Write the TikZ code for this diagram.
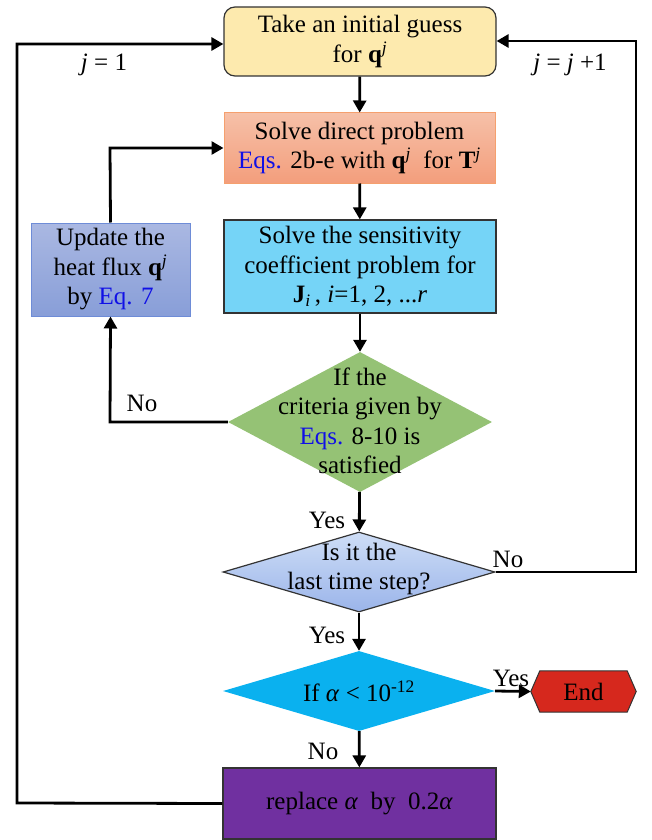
\documentclass[tikz,border=0pt]{standalone}
\usepackage{fontspec}
\setmainfont{Liberation Serif}
\usetikzlibrary{arrows.meta,shapes.geometric,backgrounds}
\definecolor{eqblue}{HTML}{1010E6}
\newcommand{\eqs}[1]{\textcolor{eqblue}{#1}}
\newcommand{\bq}{\textbf{q}\textsuperscript{\textit{j}}}
\begin{document}
\begin{tikzpicture}[x=1pt,y=-1pt,
  every node/.style={font=\fontsize{25}{29.5}\selectfont, align=center, inner sep=0pt},
  conn/.style={line width=2.8pt, -{Triangle[length=12pt,width=13pt]}},
  lbl/.style={font=\fontsize{25}{29}\selectfont}
]
\useasboundingbox (0,0) rectangle (652,840);

% boxes
\node (b1) at (360,41.5) [draw=black!80, line width=1.2pt, rounded corners=11pt, fill={rgb,255:red,253;green,234;blue,174},
  minimum width=272pt, minimum height=69pt] {Take an initial guess\\for \bq};
\node (b2) at (359.5,148) [draw={rgb,255:red,245;green,160;blue,110}, line width=1pt,
  top color={rgb,255:red,246;green,192;blue,168}, bottom color={rgb,255:red,243;green,158;blue,124},
  minimum width=271pt, minimum height=70pt] {Solve direct problem\\\eqs{Eqs.} 2b-e with \bq{}\ \ for \textbf{T}\textsuperscript{\textit{j}}};
\node (b3) at (360,266.5) [draw=black!80, line width=1.2pt, fill={rgb,255:red,117;green,212;blue,247},
  minimum width=272pt, minimum height=93pt] {Solve the sensitivity\\coefficient problem for\\\textbf{J}\textsubscript{\textit{i}}\,, \textit{i}=1, 2, ...\textit{r}};
\node (b4) at (110.5,269.5) [draw={rgb,255:red,110;green,140;blue,215}, line width=1pt,
  top color={rgb,255:red,170;green,184;blue,226}, bottom color={rgb,255:red,136;green,158;blue,216},
  minimum width=159pt, minimum height=93pt] {Update the\\heat flux \bq\\by \eqs{Eq. 7}};

% diamonds
\node (d1) at (360,422) [diamond, fill={rgb,255:red,149;green,194;blue,117}, minimum width=264pt, minimum height=140pt] {};
\node (t1) at (360,421) {If the\\criteria given by\\\eqs{Eqs.} 8-10 is\\satisfied};
\node (d2) at (359,572) [diamond, draw=black!80, line width=1.2pt,
  top color={rgb,255:red,206;green,221;blue,246}, bottom color={rgb,255:red,155;green,181;blue,234},
  minimum width=272pt, minimum height=80pt] {};
\node (t2) at (359,569) {Is it the\\last time step?};
\node (d3) at (359,691) [diamond, fill={rgb,255:red,10;green,177;blue,239}, minimum width=272pt, minimum height=80pt] {};
\node (t3) at (359,691) {If \textit{α} < 10\textsuperscript{-12}};

% end
\node (e) at (583.5,691.5) [minimum width=105pt, minimum height=41pt] {End};
\begin{scope}[on background layer]
\draw[draw=black!80, line width=1pt, fill={rgb,255:red,214;green,40;blue,29}]
  (e.west) -- ([xshift=9pt]e.north west) -- ([xshift=-9pt]e.north east) -- (e.east)
  -- ([xshift=-9pt]e.south east) -- ([xshift=9pt]e.south west) -- cycle;
\end{scope}

% purple
\node (p) at (359.5,803.5) [draw=black!80, line width=1.2pt, fill={rgb,255:red,112;green,48;blue,160},
  minimum width=273pt, minimum height=71pt] {replace \textit{α}\ \ by\ \ 0.2\textit{α}};

% connectors
\draw[conn] (b1) -- (b2);
\draw[conn] (b2) -- (b3);
\draw[conn] (b3) -- (d1);
\draw[conn] (d1) -- (d2);
\draw[conn] (d2) -- (d3);
\draw[conn] (d3) -- (p);
\draw[conn] (d3.east) -- (e.west);

\coordinate (r1) at (636,572);
\coordinate (r2) at (636,41);
\draw[conn] (d2.east) -- (r1) -- (r2) -- (b1.east |- r2);

\coordinate (l1) at (17,803);
\coordinate (l2) at (17,44);
\draw[conn] (p.west) -- (l1) -- (l2) -- (b1.west |- l2);

\coordinate (u1) at (110,422);
\draw[conn] (d1.west) -- (u1) -- (b4.south);

\coordinate (u2) at (110,148);
\draw[conn] (b4.north) -- (u2) -- (b2.west |- u2);

% labels
\node (ly1) at (327,520) [lbl] {Yes};
\node (ly2) at (327,635) [lbl] {Yes};
\node (ln3) at (323,751) [lbl] {No};
\node (ly3) at (511,678) [lbl] {Yes};
\node (ln2) at (508,559) [lbl] {No};
\node (ln1) at (142,403) [lbl] {No};
\node (lj1) at (104,65) [lbl] {\textit{j} = 1};
\node (lj2) at (570,65) [lbl] {\textit{j} = \textit{j} +1};
\end{tikzpicture}
\end{document}
